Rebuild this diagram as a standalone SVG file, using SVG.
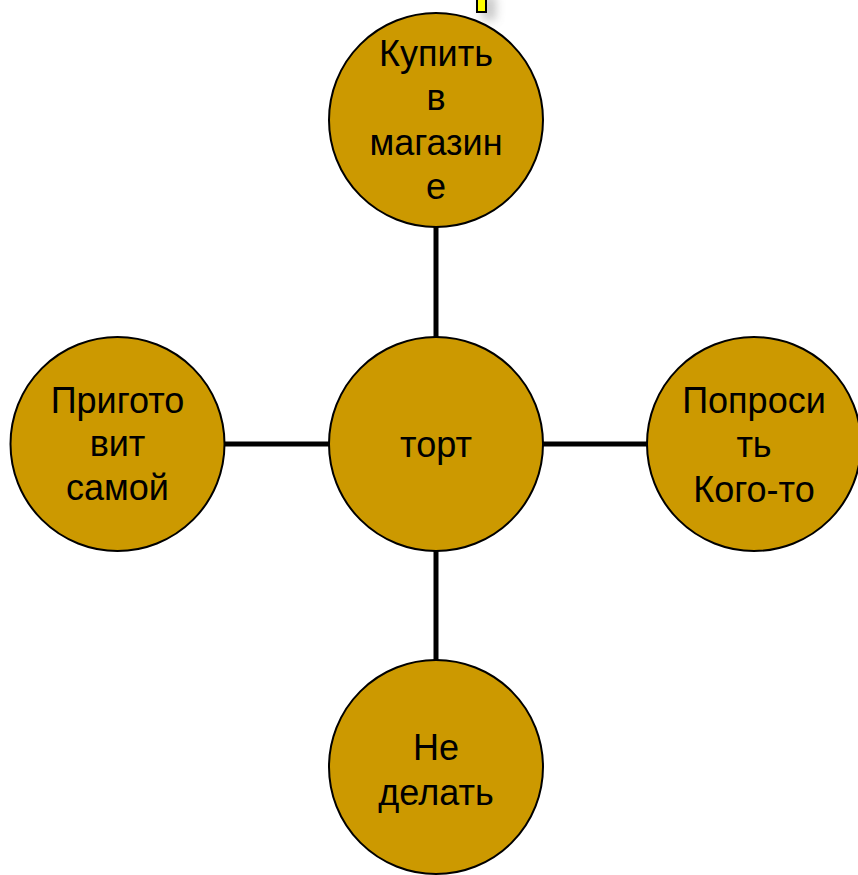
<svg xmlns="http://www.w3.org/2000/svg" width="858" height="875" viewBox="0 0 858 875">
<defs>
<style>
.node{fill:#CC9900;stroke:#000;stroke-width:2}
.lbl{font-family:"Liberation Sans",Arial,sans-serif;font-size:36px;fill:#000;text-anchor:middle}
.conn{stroke:#000;stroke-width:5;fill:none}
</style>
<filter id="blur" x="-100%" y="-100%" width="300%" height="300%"><feGaussianBlur stdDeviation="5"/></filter>
</defs>
<rect width="858" height="875" fill="#fff"/>
<g id="marker-top">
<rect x="482" y="-4" width="14" height="24" fill="#888" opacity="0.45" filter="url(#blur)"/>
<rect x="477" y="-3" width="9" height="15" fill="#FFFF00" stroke="#000" stroke-width="2"/>
</g>
<g id="connectors">
<line class="conn" x1="436" y1="226" x2="436" y2="337"/>
<line class="conn" x1="436" y1="550" x2="436" y2="661"/>
<line class="conn" x1="222" y1="444" x2="331" y2="444"/>
<line class="conn" x1="540" y1="444" x2="649" y2="444"/>
</g>
<g id="node-top">
<circle class="node" cx="436" cy="120" r="107"/>
<text class="lbl" x="436" y="66">Купить</text>
<text class="lbl" x="436" y="110">в</text>
<text class="lbl" x="436" y="155">магазин</text>
<text class="lbl" x="436" y="199">е</text>
</g>
<g id="node-center">
<circle class="node" cx="436" cy="444" r="107"/>
<text class="lbl" x="436" y="457">торт</text>
</g>
<g id="node-left">
<circle class="node" cx="117.5" cy="444" r="107"/>
<text class="lbl" x="117.5" y="413">Пригото</text>
<text class="lbl" x="117.5" y="456">вит</text>
<text class="lbl" x="117.5" y="500">самой</text>
</g>
<g id="node-right">
<circle class="node" cx="754" cy="444" r="107"/>
<text class="lbl" x="754" y="413">Попроси</text>
<text class="lbl" x="754" y="457">ть</text>
<text class="lbl" x="754" y="502">Кого-то</text>
</g>
<g id="node-bottom">
<circle class="node" cx="436" cy="767" r="107"/>
<text class="lbl" x="436" y="760">Не</text>
<text class="lbl" x="436" y="805">делать</text>
</g>
</svg>
